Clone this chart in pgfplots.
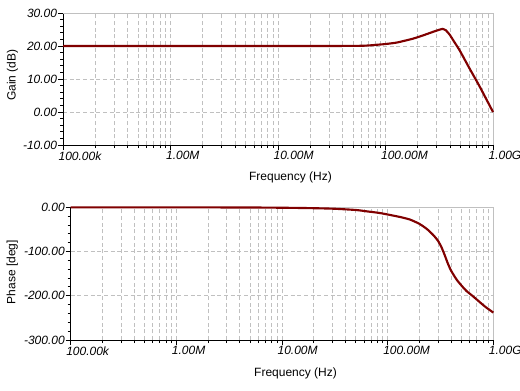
\documentclass[border=0pt]{standalone}
\usepackage{fontspec}
\setmainfont{Liberation Sans}
\usepackage{pgfplots}
\pgfplotsset{compat=1.18}
\definecolor{curve}{RGB}{128,0,0}
\definecolor{gridc}{RGB}{192,192,192}
\begin{document}
\begin{tikzpicture}
\useasboundingbox (0,0) rectangle (390pt,-292.5pt);
\begin{axis}[
  xmode=log, log basis x=10,
  xmin=1e5, xmax=1e9,
  scale only axis,
  axis x line*=bottom, axis y line*=left,
  xtick={1e5,1e6,1e7,1e8,1e9},
  xticklabels={\textit{100.00k},\textit{1.00M},\textit{10.00M},\textit{100.00M},\textit{1.00G}},
  minor xtick={2e5,3e5,4e5,5e5,6e5,7e5,8e5,9e5,2e6,3e6,4e6,5e6,6e6,7e6,8e6,9e6,2e7,3e7,4e7,5e7,6e7,7e7,8e7,9e7,2e8,3e8,4e8,5e8,6e8,7e8,8e8,9e8},
  xmajorgrids, xminorgrids, ymajorgrids,
  major grid style={gridc, dash pattern=on 3pt off 2pt, line width=0.75pt},
  minor grid style={gridc, dash pattern=on 3pt off 2pt, line width=0.75pt},
  tick align=outside,
  major tick length=3.75pt,
  minor tick length=2.25pt,
  tick style={black, line width=0.75pt},
  axis line style={black, line width=0.75pt},
  tick label style={font=\fontsize{9}{11}\selectfont\itshape},
  label style={font=\fontsize{9}{11}\selectfont},
  x tick label style={anchor=north west, xshift=-4.5pt, inner sep=1pt},
  y tick label style={anchor=east, inner sep=0.5pt},
  minor y tick num=4,
  clip=false,
  at={(47.25pt,-108.75pt)}, anchor=south west,
  width=322.5pt, height=99pt,
  ymin=-10, ymax=30,
  ytick={-10,0,10,20,30},
  yticklabels={\textit{-10.00},\textit{0.00},\textit{10.00},\textit{20.00},\textit{30.00}},
  xlabel={Frequency (Hz)},
  ylabel={Gain (dB)},
  xlabel style={at={(axis description cs:0.529,0)}, anchor=base, yshift=-26.8pt},
  ylabel style={at={(axis description cs:-0.110,0.53)}, anchor=base},
]
\draw[gridc, line width=0.75pt] (rel axis cs:0,1) -- (rel axis cs:1,1) -- (rel axis cs:1,0);
\addplot[curve, line width=1.6pt, smooth, tension=0.4] coordinates {
(1e5,20) (1e6,20) (1e7,20) (5.6e7,20.05) (8.5e7,20.4) (1e8,20.6) (1.25e8,21.0)
(1.51e8,21.6) (1.79e8,22.2) (2.14e8,23.0) (2.56e8,23.9) (2.95e8,24.6)
(3.41e8,25.2) (3.63e8,24.8) (3.94e8,23.5) (4.37e8,21.2) (4.89e8,18.7)
(6.05e8,13.2) (7.52e8,7.7) (1e9,0)
};
\end{axis}
\begin{axis}[
  xmode=log, log basis x=10,
  xmin=1e5, xmax=1e9,
  scale only axis,
  axis x line*=bottom, axis y line*=left,
  xtick={1e5,1e6,1e7,1e8,1e9},
  xticklabels={\textit{100.00k},\textit{1.00M},\textit{10.00M},\textit{100.00M},\textit{1.00G}},
  minor xtick={2e5,3e5,4e5,5e5,6e5,7e5,8e5,9e5,2e6,3e6,4e6,5e6,6e6,7e6,8e6,9e6,2e7,3e7,4e7,5e7,6e7,7e7,8e7,9e7,2e8,3e8,4e8,5e8,6e8,7e8,8e8,9e8},
  xmajorgrids, xminorgrids, ymajorgrids,
  major grid style={gridc, dash pattern=on 3pt off 2pt, line width=0.75pt},
  minor grid style={gridc, dash pattern=on 3pt off 2pt, line width=0.75pt},
  tick align=outside,
  major tick length=3.75pt,
  minor tick length=2.25pt,
  tick style={black, line width=0.75pt},
  axis line style={black, line width=0.75pt},
  tick label style={font=\fontsize{9}{11}\selectfont\itshape},
  label style={font=\fontsize{9}{11}\selectfont},
  x tick label style={anchor=north west, xshift=-4.5pt, inner sep=1pt},
  y tick label style={anchor=east, inner sep=0.5pt},
  minor y tick num=4,
  clip=false,
  at={(53pt,-255pt)}, anchor=south west,
  width=317pt, height=99.5pt,
  ymin=-300, ymax=0,
  ytick={-300,-200,-100,0},
  yticklabels={\textit{-300.00},\textit{-200.00},\textit{-100.00},\textit{0.00}},
  xlabel={Frequency (Hz)},
  ylabel={Phase [deg]},
  xlabel style={at={(axis description cs:0.532,0)}, anchor=base, yshift=-27pt},
  ylabel style={at={(axis description cs:-0.1306,0.512)}, anchor=base},
]
\draw[gridc, line width=0.75pt] (rel axis cs:0,1) -- (rel axis cs:1,1) -- (rel axis cs:1,0);
\addplot[curve, line width=1.6pt, smooth, tension=0.4] coordinates {
(1e5,0) (1e6,0) (6.3e6,-0.5) (1.58e7,-1.5) (3.0e7,-3) (5.0e7,-6) (6.3e7,-9)
(8.5e7,-13) (1.32e8,-22) (1.64e8,-28) (2e8,-37.5) (2.35e8,-49) (2.71e8,-63)
(3e8,-76) (3.24e8,-91) (3.49e8,-110) (3.74e8,-129) (4e8,-144) (4.48e8,-163)
(5e8,-177) (5.56e8,-189) (6.41e8,-201) (7.41e8,-214) (8.51e8,-226) (1e9,-238)
};
\end{axis}
\end{tikzpicture}
\end{document}
